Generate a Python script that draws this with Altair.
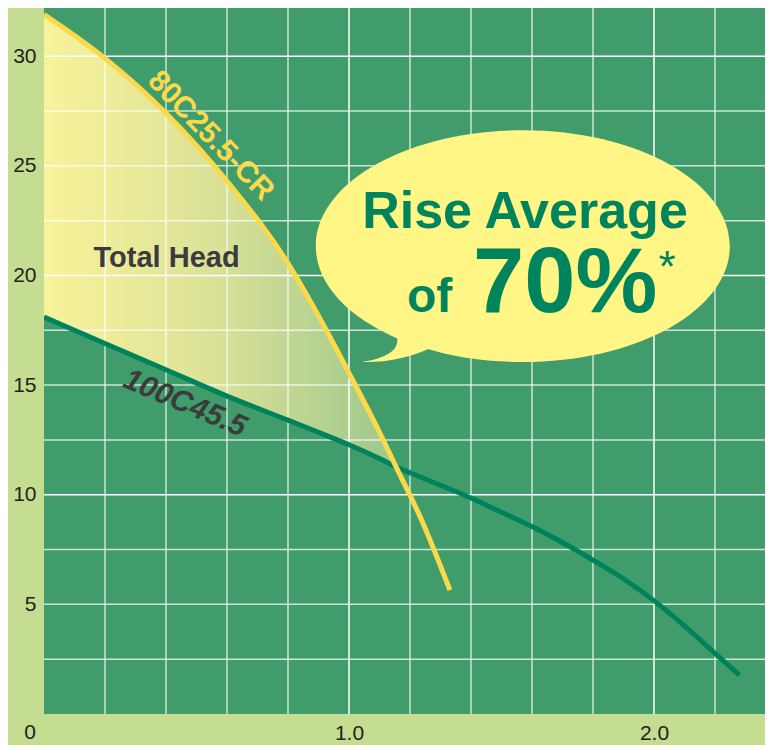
import altair as alt
import pandas as pd

# ---- data ----
# 80C25.5-CR curve (yellow)
yel_x = [0.0, 0.2, 0.4, 0.6, 0.8, 0.9, 1.0, 1.1, 1.154, 1.238, 1.331]
yel_y = [31.9, 29.9, 27.4, 24.3, 20.55, 18.15, 15.55, 12.85, 11.28, 8.85, 5.65]

# 100C45.5 curve (dark green)
grn_x = [0.0, 0.2, 0.4, 0.6, 0.8, 0.9, 1.0, 1.1, 1.154, 1.25, 1.4, 1.5, 1.6, 1.7, 1.8,
         1.9, 2.0, 2.1, 2.2, 2.28]
grn_y = [18.1, 16.9, 15.7, 14.5, 13.4, 12.85, 12.28, 11.65, 11.28, 10.72, 9.85, 9.2, 8.55,
         7.82, 7.02, 6.17, 5.17, 4.02, 2.77, 1.77]

# gain region: shared x values up to the crossing point
n_gain = 9

# grid and tick values
x_grid = [0.2, 0.4, 0.6, 0.8, 1.0, 1.2, 1.4, 1.6, 1.8, 2.0, 2.2]
x_major = [1.0, 2.0]
y_grid = [2.5, 5, 7.5, 10, 12.5, 15, 17.5, 20, 22.5, 25, 27.5, 30]
y_major = [10, 20, 30]
x_ticks = [1.0, 2.0]
y_ticks = [5, 10, 15, 20, 25, 30]

FONT = "Liberation Sans"
BG_GREEN = "#409d6b"
MARGIN = "#c4dd90"
YELLOW = "#fcd94a"
DKGREEN = "#00835c"
BUBBLE = "#fff685"
TXT_GREEN = "#00845d"
DARK = "#3b3b3d"

yel_df = pd.DataFrame({"x": yel_x, "y": yel_y})
grn_df = pd.DataFrame({"x": grn_x, "y": grn_y})
area_df = pd.DataFrame({"x": yel_x[:n_gain], "top": yel_y[:n_gain], "bottom": grn_y[:n_gain]})
xg_df = pd.DataFrame({"x": x_grid, "major": [v in x_major for v in x_grid]})
yg_df = pd.DataFrame({"y": y_grid, "major": [v in y_major for v in y_grid]})

xs = alt.Scale(domain=[0, 2.364], nice=False, zero=False)
ys = alt.Scale(domain=[0, 32.2], nice=False, zero=False)
xax = alt.Axis(values=x_ticks, format=".1f", title=None, grid=False, ticks=False, tickSize=0,
               domain=False, labelFontSize=21, labelColor="#222222", labelFont=FONT,
               labelPadding=8)
yax = alt.Axis(values=y_ticks, title=None, grid=False, ticks=False, tickSize=0, domain=False,
               labelFontSize=21, labelColor="#222222", labelFont=FONT, labelPadding=8)


def X(f="x"):
    return alt.X(f"{f}:Q", scale=xs, axis=xax)


def Y(f="y"):
    return alt.Y(f"{f}:Q", scale=ys, axis=yax)


grad = alt.Gradient(
    gradient="linear",
    stops=[
        alt.GradientStop(color="#f8f39b", offset=0),
        alt.GradientStop(color="#d9e197", offset=0.5),
        alt.GradientStop(color="#9cc78c", offset=1),
    ],
    x1=0, x2=1, y1=0, y2=0,
)

area = alt.Chart(area_df).mark_area(interpolate="monotone", color=grad, opacity=1).encode(
    x=X(), y=Y("top"), y2="bottom:Q"
)

vgrid = alt.Chart(xg_df).mark_rule(color="white", strokeWidth=1.5).encode(
    x=X(),
    opacity=alt.condition("datum.major", alt.value(1.0), alt.value(0.72)),
)
hgrid = alt.Chart(yg_df).mark_rule(color="white", strokeWidth=1.5).encode(
    y=Y(),
    opacity=alt.condition("datum.major", alt.value(1.0), alt.value(0.72)),
)

grn_line = alt.Chart(grn_df).mark_line(interpolate="monotone", color=DKGREEN, strokeWidth=5,
                                       clip=True).encode(x=X(), y=Y())
yel_line = alt.Chart(yel_df).mark_line(interpolate="monotone", color=YELLOW, strokeWidth=5,
                                       clip=True).encode(x=X(), y=Y())

# speech bubble (ellipse + tail) as a custom symbol
k = 0.5523
ry = 0.56
ellipse = (f"M 1 0 C 1 {k*ry:.4f} {k:.4f} {ry} 0 {ry} C {-k:.4f} {ry} -1 {k*ry:.4f} -1 0 "
           f"C -1 {-k*ry:.4f} {-k:.4f} {-ry} 0 {-ry} C {k:.4f} {-ry} 1 {-k*ry:.4f} 1 0 Z")
tail = "M -0.44 0.49 Q -0.6 0.565 -0.778 0.56 Q -0.58 0.53 -0.61 0.43 Z"
bubble_df = pd.DataFrame({"x": [1.570], "y": [21.34]})
bubble = alt.Chart(bubble_df).mark_point(shape=ellipse + " " + tail, filled=True, fill=BUBBLE,
                                         opacity=1, strokeWidth=0, size=414 ** 2).encode(
    x=X(), y=Y()
)

lab_yel = alt.Chart(pd.DataFrame([{"x": 0.547, "y": 26.37, "t": "80C25.5-CR"}])).mark_text(
    font=FONT, fontSize=30, fontWeight="bold", color=YELLOW, angle=46, baseline="middle",
    align="center").encode(x=X(), y=Y(), text="t:N")
lab_grn = alt.Chart(pd.DataFrame([{"x": 0.462, "y": 14.17, "t": "100C45.5"}])).mark_text(
    font=FONT, fontSize=30, fontWeight="bold", fontStyle="italic", color=DARK, angle=23,
    baseline="middle", align="center").encode(x=X(), y=Y(), text="t:N")
lab_head = alt.Chart(pd.DataFrame([{"x": 0.402, "y": 20.37, "t": "Total Head"}])).mark_text(
    font=FONT, fontSize=29, fontWeight="bold", color=DARK, baseline="alphabetic",
    align="center").encode(x=X(), y=Y(), text="t:N")

rise = alt.Chart(pd.DataFrame([{"x": 1.577, "y": 22.15, "t": "Rise Average"}])).mark_text(
    font=FONT, fontSize=52, fontWeight="bold", color=TXT_GREEN, baseline="alphabetic",
    align="center").encode(x=X(), y=Y(), text="t:N")
of_t = alt.Chart(pd.DataFrame([{"x": 1.190, "y": 18.33, "t": "of"}])).mark_text(
    font=FONT, fontSize=48, fontWeight="bold", color=TXT_GREEN, baseline="alphabetic",
    align="left").encode(x=X(), y=Y(), text="t:N")
pct = alt.Chart(pd.DataFrame([{"x": 1.407, "y": 18.33, "t": "70%"}])).mark_text(
    font=FONT, fontSize=92, fontWeight="bold", color=TXT_GREEN, baseline="alphabetic",
    align="left").encode(x=X(), y=Y(), text="t:N")
star = alt.Chart(pd.DataFrame([{"x": 2.015, "y": 19.7, "t": "*"}])).mark_text(
    font=FONT, fontSize=44, color=TXT_GREEN, baseline="alphabetic",
    align="left").encode(x=X(), y=Y(), text="t:N")

zero = alt.Chart(pd.DataFrame([{"x": 0.0, "y": 0.0, "t": "0"}])).mark_text(
    font=FONT, fontSize=21, color="#222222", baseline="middle", align="center",
    dx=-14, dy=19).encode(x=X(), y=Y(), text="t:N")

chart = alt.layer(
    area, vgrid, hgrid, grn_line, yel_line, lab_yel, lab_grn, lab_head,
    bubble, rise, of_t, pct, star, zero
).properties(
    width=721, height=706,
    autosize=alt.AutoSizeParams(type="none"),
    padding={"left": 36, "top": 0, "right": 0, "bottom": 31},
    background=MARGIN,
).configure_view(fill=BG_GREEN, strokeWidth=0)

chart.save("out.html", embed_options={"renderer": "svg", "actions": False})
